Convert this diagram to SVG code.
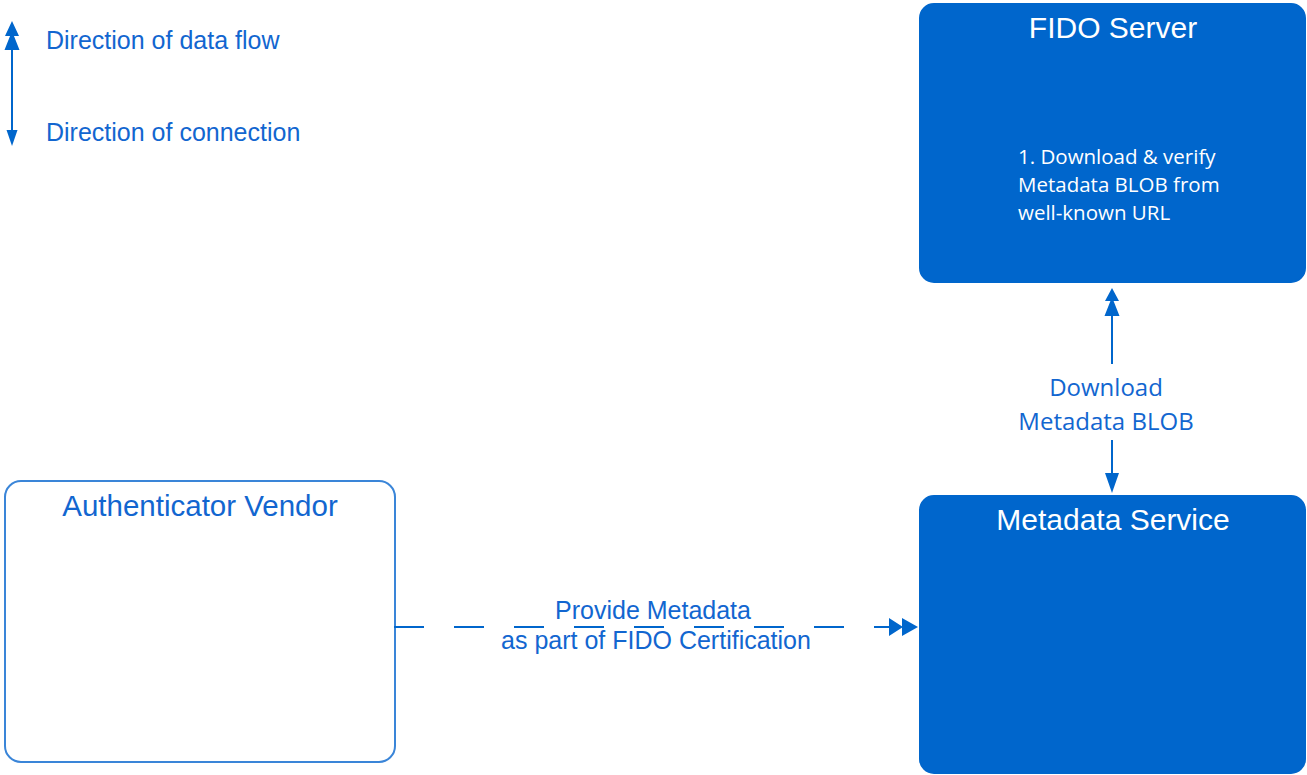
<svg xmlns="http://www.w3.org/2000/svg" width="1307" height="775" viewBox="0 0 1307 775">
<style>
.box{fill:#0066CC;stroke:#0066CC;stroke-width:2}
.wbox{fill:#ffffff;stroke:#3a85d8;stroke-width:2}
.t{font-family:"Liberation Sans",Arial,sans-serif;fill:#1266d0}
.w{font-family:"Liberation Sans",Arial,sans-serif;fill:#ffffff}
.c{font-family:"Open Sans","Noto Sans",sans-serif}
.ln{stroke:#0066CC;stroke-width:2;fill:none}
.ah{fill:#0066CC}
</style>
<rect width="1307" height="775" fill="#ffffff"/>
<g id="legend">
<line class="ln" x1="12" y1="40" x2="12" y2="135"/>
<path class="ah" d="M12,21 L19,36 L5,36 Z M12,31 L19.5,50 L4.5,50 Z"/>
<path class="ah" d="M6.5,130 L17.5,130 L12,146 Z"/>
<text class="t" x="46" y="49" font-size="25">Direction of data flow</text>
<text class="t" x="46" y="141" font-size="25">Direction of connection</text>
</g>
<g id="fido-server">
<rect class="box" x="920" y="4" width="385" height="278" rx="14"/>
<text class="w" x="1113" y="38" font-size="30" text-anchor="middle">FIDO Server</text>
<text class="w c" x="1018" y="164" font-size="20.5">1. Download &amp; verify</text>
<text class="w c" x="1018" y="192" font-size="20.5">Metadata BLOB from</text>
<text class="w c" x="1018" y="220" font-size="20.5">well-known URL</text>
</g>
<g id="metadata-service">
<rect class="box" x="920" y="496" width="385" height="277" rx="14"/>
<text class="w" x="1113" y="530" font-size="30" text-anchor="middle">Metadata Service</text>
</g>
<g id="authenticator-vendor">
<rect class="wbox" x="5" y="481" width="390" height="281" rx="16"/>
<text class="t" x="200" y="516" font-size="29.5" text-anchor="middle">Authenticator Vendor</text>
</g>
<g id="connectors">
<line class="ln" x1="1112" y1="305" x2="1112" y2="364"/>
<path class="ah" d="M1112,288 L1119,301 L1105,301 Z M1112,297 L1119.5,316 L1104.5,316 Z"/>
<line class="ln" x1="1112" y1="440" x2="1112" y2="476"/>
<path class="ah" d="M1105,473 L1119,473 L1112,493 Z"/>
<text class="t c" x="1106" y="396" font-size="24" text-anchor="middle">Download</text>
<text class="t c" x="1106" y="430" font-size="24" text-anchor="middle">Metadata BLOB</text>
<line class="ln" x1="394" y1="627" x2="880" y2="627" stroke-dasharray="30,30"/>
<line class="ln" x1="878" y1="627" x2="892" y2="627"/>
<path class="ah" d="M889,618 L903,627 L889,636 Z M902,618 L918,627 L902,636 Z"/>
<text class="t" x="653" y="619" font-size="25" text-anchor="middle">Provide Metadata</text>
<text class="t" x="656" y="649" font-size="25" text-anchor="middle">as part of FIDO Certification</text>
</g>
</svg>
